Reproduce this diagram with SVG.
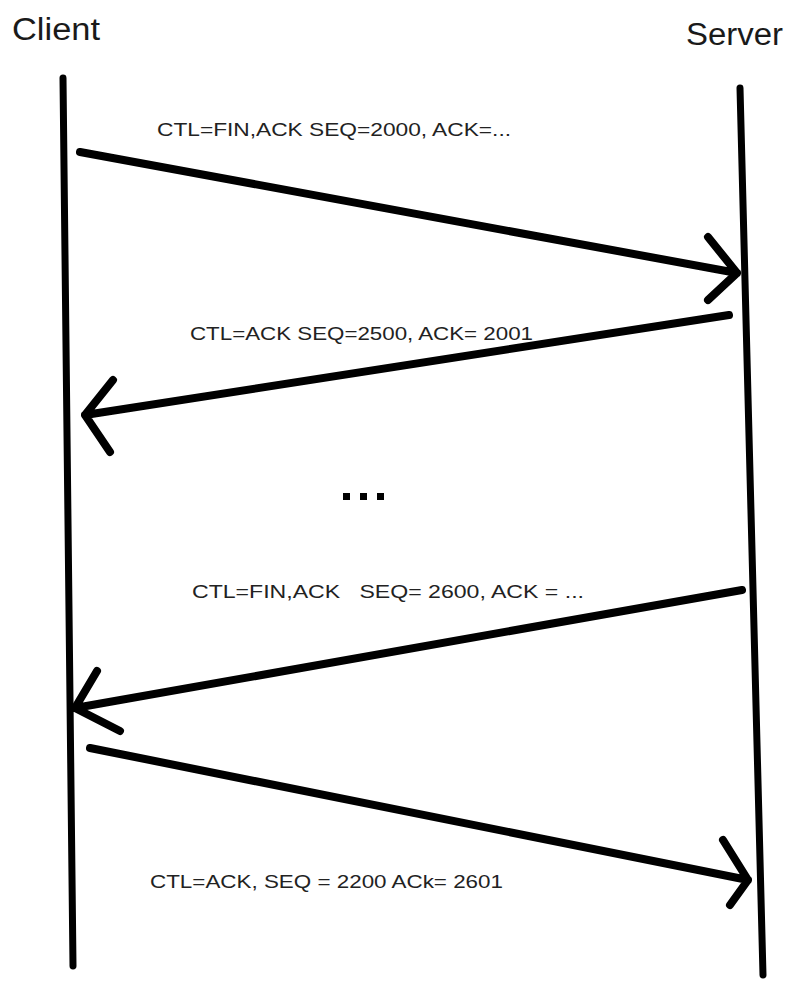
<svg xmlns="http://www.w3.org/2000/svg" width="791" height="981" viewBox="0 0 791 981">
<style>
.life{stroke:#000;stroke-width:7;stroke-linecap:round;fill:none}
.msg{stroke:#000;stroke-width:8;stroke-linecap:round;stroke-linejoin:round;fill:none}
.title{font-family:"Liberation Sans",Arial,sans-serif;font-size:31px;fill:#1a1a1a}
.lbl{font-family:"Liberation Sans",Arial,sans-serif;font-size:19px;fill:#222}
</style>
<rect width="791" height="981" fill="#fff"/>
<g id="client">
<text class="title" x="12" y="40" textLength="88" lengthAdjust="spacingAndGlyphs">Client</text>
<path class="life" d="M63,78 L73,966"/>
</g>
<g id="server">
<text class="title" x="686" y="45" textLength="97" lengthAdjust="spacingAndGlyphs">Server</text>
<path class="life" d="M740,88 L763,975"/>
</g>
<g id="connectors">
<path class="msg" d="M80,152 L737,273 M708,237 L737,273 L708,300"/>
<text class="lbl" x="157" y="136" textLength="354" lengthAdjust="spacingAndGlyphs">CTL=FIN,ACK SEQ=2000, ACK=...</text>
<path class="msg" d="M729,315 L85,415 M113,380 L85,415 L110,452"/>
<text class="lbl" x="190" y="340" textLength="343" lengthAdjust="spacingAndGlyphs">CTL=ACK SEQ=2500, ACK= 2001</text>
<path class="msg" d="M742,590 L75,708 M97,671 L75,708 L120,731"/>
<text class="lbl" x="192" y="598" textLength="392" lengthAdjust="spacingAndGlyphs" xml:space="preserve">CTL=FIN,ACK   SEQ= 2600, ACK = ...</text>
<path class="msg" d="M90,748 L748,880 M723,840 L748,880 L730,905"/>
<text class="lbl" x="150" y="888" textLength="353" lengthAdjust="spacingAndGlyphs">CTL=ACK, SEQ = 2200 ACk= 2601</text>
</g>
<g id="ellipsis" fill="#000">
<rect x="343" y="493" width="7" height="7"/>
<rect x="360" y="493" width="7" height="7"/>
<rect x="377" y="493" width="7" height="7"/>
</g>
</svg>
